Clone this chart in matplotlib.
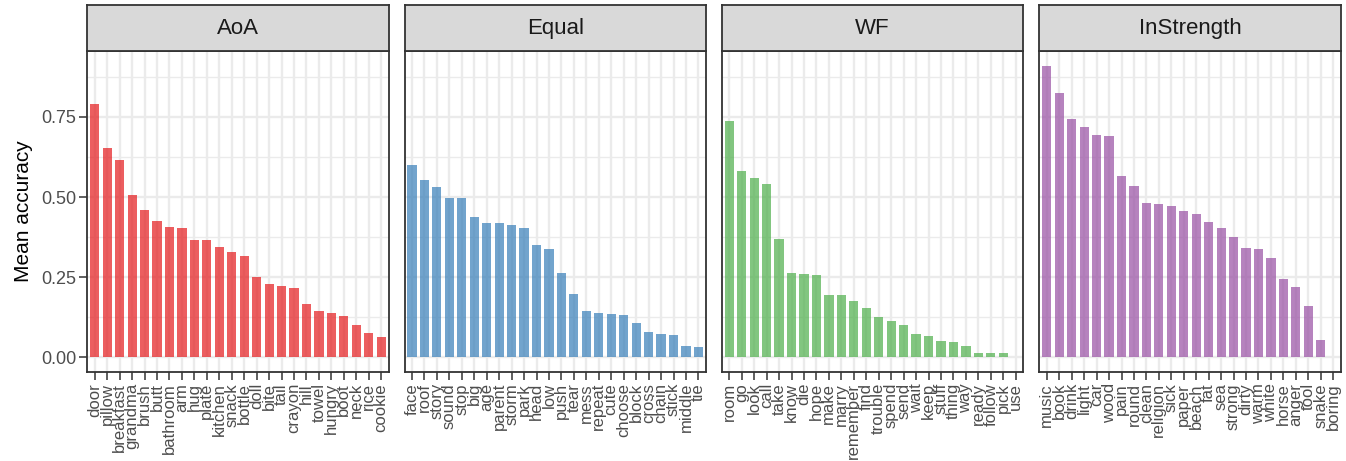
import matplotlib
matplotlib.use("Agg")
import matplotlib.pyplot as plt
import numpy as np

plt.rcParams["font.family"] = ["Liberation Sans", "DejaVu Sans"]

# Facet titles and colours (Set1 palette)
panels = ["AoA", "Equal", "WF", "InStrength"]
colors = ["#E41A1C", "#377EB8", "#4DAF4A", "#984EA3"]

aoa_words = ["door", "pillow", "breakfast", "grandma", "brush", "butt", "bathroom", "arm",
             "hug", "plate", "kitchen", "snack", "bottle", "doll", "bite", "tail", "crayon",
             "hill", "towel", "hungry", "boot", "neck", "rice", "cookie"]
aoa_acc = [0.790, 0.653, 0.615, 0.508, 0.459, 0.424, 0.406, 0.402, 0.366, 0.366, 0.344,
           0.328, 0.316, 0.252, 0.228, 0.222, 0.215, 0.165, 0.146, 0.137, 0.129, 0.101,
           0.076, 0.064]

equal_words = ["face", "roof", "story", "sound", "stop", "big", "age", "parent", "storm",
               "park", "head", "low", "push", "tear", "mess", "repeat", "cute", "choose",
               "block", "cross", "chain", "stick", "middle", "tie"]
equal_acc = [0.600, 0.552, 0.530, 0.498, 0.498, 0.438, 0.419, 0.419, 0.412, 0.402, 0.349,
             0.337, 0.264, 0.199, 0.146, 0.139, 0.134, 0.131, 0.106, 0.078, 0.072, 0.069,
             0.035, 0.031]

wf_words = ["room", "go", "look", "call", "take", "know", "die", "hope", "make", "marry",
            "remember", "find", "trouble", "spend", "send", "wait", "keep", "stuff", "thing",
            "way", "ready", "follow", "pick", "use"]
wf_acc = [0.736, 0.580, 0.561, 0.542, 0.368, 0.262, 0.260, 0.256, 0.195, 0.195, 0.175,
          0.153, 0.125, 0.114, 0.100, 0.074, 0.067, 0.051, 0.049, 0.037, 0.014, 0.014,
          0.014, 0.0]

instr_words = ["music", "book", "drink", "light", "car", "wood", "pain", "round", "clean",
               "religion", "sick", "paper", "beach", "fat", "sea", "strong", "dirty", "warm",
               "white", "horse", "anger", "tool", "snake", "boring"]
instr_acc = [0.910, 0.825, 0.743, 0.717, 0.694, 0.689, 0.565, 0.533, 0.481, 0.479, 0.472,
             0.457, 0.446, 0.421, 0.402, 0.374, 0.342, 0.337, 0.311, 0.244, 0.221, 0.161,
             0.054, 0.0]

y_ticks = [0.0, 0.25, 0.50, 0.75]
y_tick_labels = ["0.00", "0.25", "0.50", "0.75"]
y_minor = [0.125, 0.375, 0.625, 0.875]

words = [aoa_words, equal_words, wf_words, instr_words]
accs = [aoa_acc, equal_acc, wf_acc, instr_acc]

W, H = 1346, 461
fig = plt.figure(figsize=(W / 100, H / 100), dpi=100)

dark = "#333333"
grid = "#EBEBEB"
tick_col = "#4D4D4D"

all_max = max(max(a) for a in accs)
ylo, yhi = -0.05 * all_max, all_max * 1.05

panel_left = [87.3, 404.5, 721.8, 1039.3]
panel_w = 301.4
panel_top, panel_bot = 51.0, 372.0
strip_top = 5.5

for i, (title, col, wds, acc) in enumerate(zip(panels, colors, words, accs)):
    left = panel_left[i] / W
    bottom = (H - panel_bot) / H
    height = (panel_bot - panel_top) / H
    ax = fig.add_axes([left, bottom, panel_w / W, height])
    x = np.arange(len(wds))
    ax.bar(x, acc, width=0.74, color=col, alpha=0.7, linewidth=0, zorder=3)
    ax.set_xlim(-0.6, len(wds) - 0.4)
    ax.set_ylim(ylo, yhi)
    ax.set_xticks(x)
    ax.set_xticklabels(wds, rotation=90, fontsize=12, color=tick_col, va="top", ha="center")
    ax.set_yticks(y_ticks)
    ax.set_yticks(y_minor, minor=True)
    if i == 0:
        ax.set_yticklabels(y_tick_labels, fontsize=13, color=tick_col)
        ax.set_ylabel("Mean accuracy", fontsize=15, color="black", labelpad=6)
    else:
        ax.set_yticklabels([])
    ax.tick_params(axis="both", which="major", length=5.5, width=1.1, color=dark, pad=2.5)
    ax.tick_params(axis="y", which="minor", length=0)
    if i != 0:
        ax.tick_params(axis="y", which="major", length=0)
    ax.grid(True, which="major", axis="both", color=grid, linewidth=1.7, zorder=0)
    ax.grid(True, which="minor", axis="y", color=grid, linewidth=1.0, zorder=0)
    ax.set_axisbelow(True)
    for s in ax.spines.values():
        s.set_color(dark)
        s.set_linewidth(1.3)
        s.set_zorder(5)

    # facet strip
    sax = fig.add_axes([left, (H - panel_top) / H, panel_w / W, (panel_top - strip_top) / H])
    sax.set_facecolor("#D9D9D9")
    sax.set_xticks([])
    sax.set_yticks([])
    for s in sax.spines.values():
        s.set_color(dark)
        s.set_linewidth(1.3)
    sax.text(0.5, 0.5, title, ha="center", va="center", fontsize=16, color="#1A1A1A",
             transform=sax.transAxes)

fig.savefig("out.png", dpi=100)
